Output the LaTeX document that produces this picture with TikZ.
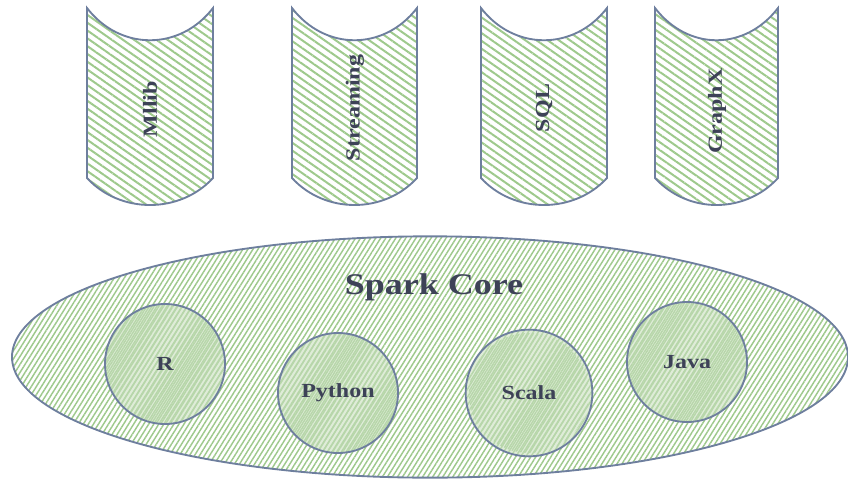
\documentclass[tikz,border=0pt]{standalone}
\usepackage{fontspec}
\setmainfont{Liberation Serif}
\usetikzlibrary{patterns.meta,shapes.geometric}
\definecolor{edge}{HTML}{6E7F9E}
\definecolor{ink}{HTML}{3D4257}
\definecolor{hatch}{HTML}{9EC98C}
\definecolor{hatchfill}{HTML}{C9E0BE}
\tikzset{
  tape/.style={draw=edge, line width=1.4pt, pattern={Lines[angle=-35,distance=4.8pt,line width=1.5pt]}, pattern color=hatch},
  core/.style={ellipse, draw=edge, line width=1.4pt, minimum width=627pt, minimum height=181pt, inner sep=0pt,
    pattern={Lines[angle=58,distance=3.2pt,line width=1.1pt]}, pattern color=hatch},
  lang/.style={circle, draw=edge, line width=1.4pt, minimum size=90pt, inner sep=0pt, fill=hatchfill, fill opacity=0.6, text opacity=1},
  langhatch/.style={circle, minimum size=90pt, inner sep=0pt, pattern={Lines[angle=58,distance=3pt,line width=1.1pt]}, pattern color=hatch},
  vlabel/.style={rotate=90, text=ink, font=\bfseries\fontsize{15pt}{18pt}\selectfont},
  llabel/.style={text=ink, font=\bfseries\fontsize{15pt}{18pt}\selectfont},
}
\newcommand{\wide}[1]{\scalebox{1.2}[1]{#1}}
\begin{document}
\begin{tikzpicture}[x=0.75pt,y=-0.75pt]
\useasboundingbox (0,0) rectangle (848,485);
% tapes
\path[tape] (87,8) .. controls (120,51) and (180,51) .. (213,8) -- (213,178) .. controls (180,214) and (120,214) .. (87,178) -- cycle;
\path[tape] (292,8) .. controls (325,51) and (384,51) .. (417,8) -- (417,178) .. controls (384,214) and (325,214) .. (292,178) -- cycle;
\path[tape] (481,8) .. controls (514,51) and (574,51) .. (607,8) -- (607,178) .. controls (574,214) and (514,214) .. (481,178) -- cycle;
\path[tape] (655,8) .. controls (688,51) and (745,51) .. (778,8) -- (778,178) .. controls (745,214) and (688,214) .. (655,178) -- cycle;
\node[vlabel] (mllib) at (150,109) {\wide{Mllib}};
\node[vlabel] (streaming) at (355,108) {\wide{Streaming}};
\node[vlabel] (sql) at (544,108) {\wide{SQL}};
\node[vlabel] (graphx) at (717,111) {\wide{GraphX}};
% core
\node[core] (core) at (430,357) {};
\node[text=ink, font=\bfseries\fontsize{22.5pt}{26pt}\selectfont] (sparkcore) at (434,287) {\wide{Spark Core}};
% languages
\node[langhatch] (rh) at (165,364) {};
\node[langhatch] (ph) at (338,393) {};
\node[langhatch] (sh) at (529,393) {};
\node[langhatch] (jh) at (687,362) {};
\node[lang, llabel] (r) at (165,364) {\wide{R}};
\node[lang, llabel] (python) at (338,393) {\wide{Python}};
\node[lang, llabel, minimum size=95pt] (scala) at (529,393) {\wide{Scala}};
\node[lang, llabel] (java) at (687,362) {\wide{Java}};
\end{tikzpicture}
\end{document}
